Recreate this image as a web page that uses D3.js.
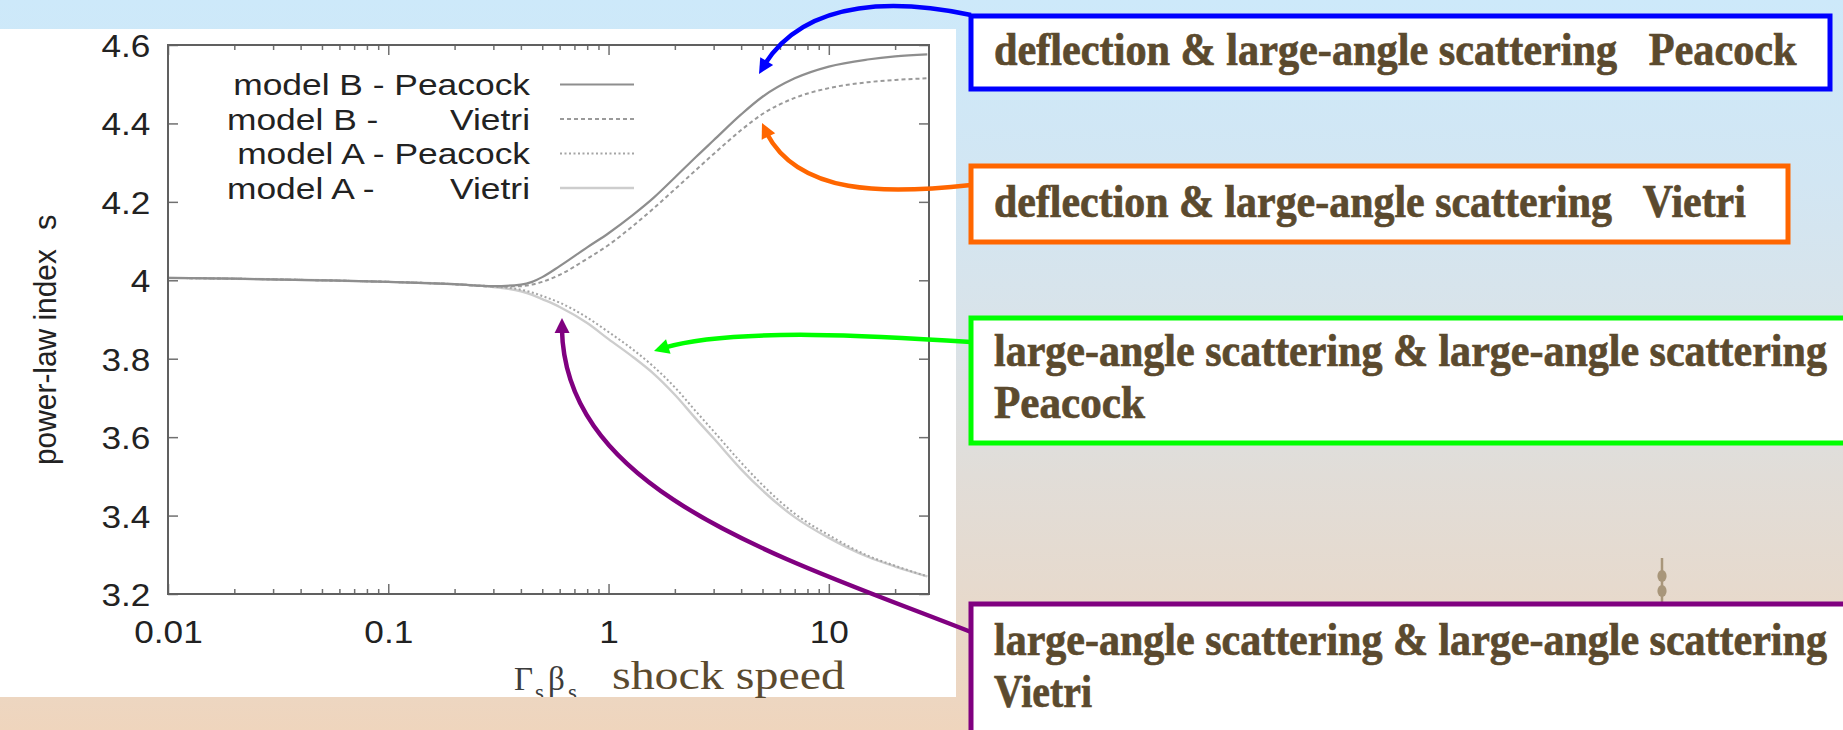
<!DOCTYPE html>
<html>
<head>
<meta charset="utf-8">
<script src="https://cdn.jsdelivr.net/npm/d3@7"></script>
<style>
  html, body { margin: 0; padding: 0; overflow: hidden; background: #fff; }
  svg { display: block; }
</style>
</head>
<body>
<svg id="chart" width="1843" height="730"></svg>
<script>
// Shock speed (Γsβs) sample points shared by every curve
const shockSpeed = [0.01, 0.02, 0.05, 0.1, 0.2, 0.3, 0.4, 0.45, 0.5, 0.6, 0.8, 1, 1.3, 1.6, 2, 2.5, 3, 4, 5, 7, 10, 15, 20, 28];

// Power-law index s for each model / scattering prescription
const modelBPeacock = [4.006, 4.004, 4.000, 3.996, 3.990, 3.985, 3.989, 3.996, 4.008, 4.036, 4.084, 4.120, 4.168, 4.210, 4.262, 4.315, 4.357, 4.423, 4.468, 4.515, 4.545, 4.563, 4.571, 4.576];
const modelBVietri  = [4.006, 4.004, 4.000, 3.996, 3.990, 3.984, 3.985, 3.989, 3.996, 4.014, 4.055, 4.090, 4.140, 4.183, 4.232, 4.282, 4.322, 4.383, 4.424, 4.465, 4.490, 4.505, 4.511, 4.515];
const modelAPeacock = [4.006, 4.004, 4.000, 3.996, 3.990, 3.984, 3.976, 3.969, 3.960, 3.943, 3.905, 3.868, 3.822, 3.780, 3.727, 3.665, 3.615, 3.535, 3.478, 3.405, 3.350, 3.298, 3.272, 3.245];
const modelAVietri  = [4.006, 4.004, 4.000, 3.996, 3.990, 3.983, 3.972, 3.963, 3.952, 3.932, 3.891, 3.850, 3.803, 3.762, 3.708, 3.646, 3.597, 3.518, 3.464, 3.396, 3.343, 3.295, 3.270, 3.245];

// Axis ticks and labels
const xMajorTicks = [0.01, 0.1, 1, 10];
const xTickLabels = ["0.01", "0.1", "1", "10"];
const xMinorTicks = [0.02,0.03,0.04,0.05,0.06,0.07,0.08,0.09,0.2,0.3,0.4,0.5,0.6,0.7,0.8,0.9,2,3,4,5,6,7,8,9,20];
const yTicks = [3.2, 3.4, 3.6, 3.8, 4.0, 4.2, 4.4, 4.6];
const yTickLabels = ["3.2", "3.4", "3.6", "3.8", "4", "4.2", "4.4", "4.6"];

// Legend entries
const legendModels  = ["model B -", "model B -", "model A -", "model A -"];
const legendMethods = ["Peacock", "Vietri", "Peacock", "Vietri"];

// Annotation boxes (one or two lines each)
const noteLines = [
  ["deflection & large-angle scattering   Peacock"],
  ["deflection & large-angle scattering   Vietri"],
  ["large-angle scattering & large-angle scattering", "Peacock"],
  ["large-angle scattering & large-angle scattering", "Vietri"]
];

const W = 1843, H = 730;
const svg = d3.select("#chart");
const defs = svg.append("defs");

// page background: vertical wash from pale blue to peach
const bg = defs.append("linearGradient").attr("id", "bg")
  .attr("x1", 0).attr("y1", 0).attr("x2", 0).attr("y2", 1);
[[0, "#cde9fa"], [0.25, "#d2e6f3"], [0.45, "#d9e3e9"], [0.65, "#e1ddd8"], [0.8, "#e6dace"], [1, "#efd5bd"]]
  .forEach(([o, c]) => bg.append("stop").attr("offset", o).attr("stop-color", c));
svg.append("rect").attr("width", W).attr("height", H).attr("fill", "url(#bg)");

// white panel holding the plot
const panel = { x: 0, y: 29, w: 956, h: 668 };
svg.append("rect").attr("x", panel.x).attr("y", panel.y)
  .attr("width", panel.w).attr("height", panel.h).attr("fill", "#fff");
defs.append("clipPath").attr("id", "panelClip").append("rect")
  .attr("x", panel.x).attr("y", panel.y).attr("width", panel.w).attr("height", panel.h);

// text helper: glyphs are squeezed/stretched horizontally (in their own frame)
// either by a fixed factor sx or so that the run spans a given width
function label(parent, str, x, y, o) {
  const base = `translate(${x},${y})${o.rot ? ` rotate(${o.rot})` : ""}`;
  const t = parent.append("text")
    .attr("transform", base)
    .attr("font-family", o.family || "'Liberation Sans', Arial, sans-serif")
    .attr("font-size", o.size)
    .attr("font-weight", o.weight || "normal")
    .attr("fill", o.fill || "#222")
    .attr("text-anchor", o.anchor || "start")
    .style("white-space", "pre")
    .text(str);
  if (o.stroke) t.attr("stroke", o.fill).attr("stroke-width", o.stroke);
  let sx = o.sx || 1;
  if (o.width) sx = o.width / t.node().getComputedTextLength();
  t.attr("transform", `${base} scale(${sx},1)`);
  return t;
}

// ---- plot ----
const plot = { l: 168, r: 929, t: 45, b: 594 };
const x = d3.scaleLog().domain([0.01, 28.5]).range([plot.l, plot.r]);
const y = d3.scaleLinear().domain([3.2, 4.6]).range([plot.b, plot.t]);

defs.append("clipPath").attr("id", "plotClip").append("rect")
  .attr("x", plot.l).attr("y", plot.t).attr("width", plot.r - plot.l).attr("height", plot.b - plot.t);

const series = [
  { values: modelBPeacock, stroke: "#8e8e8e", dash: null,    width: 2.2 },
  { values: modelBVietri,  stroke: "#9a9a9a", dash: "4,3",   width: 2.0 },
  { values: modelAPeacock, stroke: "#a5a5a5", dash: "2,2.5", width: 2.0 },
  { values: modelAVietri,  stroke: "#cdcdcd", dash: null,    width: 2.4 }
];

const line = d3.line()
  .x(d => x(d[0]))
  .y(d => y(d[1]))
  .curve(d3.curveMonotoneX);

const curves = svg.append("g").attr("clip-path", "url(#plotClip)");
series.slice().reverse().forEach(s => {
  curves.append("path")
    .attr("d", line(shockSpeed.map((v, i) => [v, s.values[i]])))
    .attr("fill", "none")
    .attr("stroke", s.stroke)
    .attr("stroke-width", s.width)
    .attr("stroke-dasharray", s.dash);
});

// axes with inward ticks on all four sides
const tickColor = "#707070";
function styleAxis(g) {
  g.select(".domain").remove();
  g.selectAll(".tick line").attr("stroke", tickColor).attr("stroke-width", 1.5);
}
const tickFont = { size: 32, sx: 1.1 };

const xBottom = svg.append("g").attr("transform", `translate(0,${plot.b})`)
  .call(d3.axisBottom(x).tickValues(xMajorTicks).tickSize(-10).tickPadding(26.5)
    .tickFormat((d, i) => xTickLabels[i]));
styleAxis(xBottom);
xBottom.selectAll(".tick text")
  .attr("font-family", "'Liberation Sans', Arial, sans-serif")
  .attr("font-size", tickFont.size).attr("fill", "#222")
  .attr("transform", `scale(${tickFont.sx},1)`);

const xBottomMinor = svg.append("g").attr("transform", `translate(0,${plot.b})`)
  .call(d3.axisBottom(x).tickValues(xMinorTicks).tickSize(-5).tickFormat(""));
styleAxis(xBottomMinor);

const xTop = svg.append("g").attr("transform", `translate(0,${plot.t})`)
  .call(d3.axisTop(x).tickValues(xMajorTicks).tickSize(-10).tickFormat(""));
styleAxis(xTop);
const xTopMinor = svg.append("g").attr("transform", `translate(0,${plot.t})`)
  .call(d3.axisTop(x).tickValues(xMinorTicks).tickSize(-5).tickFormat(""));
styleAxis(xTopMinor);

const yLeft = svg.append("g").attr("transform", `translate(${plot.l},0)`)
  .call(d3.axisLeft(y).tickValues(yTicks).tickSize(-10).tickPadding(16)
    .tickFormat((d, i) => yTickLabels[i]));
styleAxis(yLeft);
yLeft.selectAll(".tick text")
  .attr("font-family", "'Liberation Sans', Arial, sans-serif")
  .attr("font-size", tickFont.size).attr("fill", "#222")
  .attr("dy", "0.36em")
  .attr("transform", `scale(${tickFont.sx},1)`);

const yRight = svg.append("g").attr("transform", `translate(${plot.r},0)`)
  .call(d3.axisRight(y).tickValues(yTicks).tickSize(-10).tickFormat(""));
styleAxis(yRight);

// frame
svg.append("rect")
  .attr("x", plot.l).attr("y", plot.t)
  .attr("width", plot.r - plot.l).attr("height", plot.b - plot.t)
  .attr("fill", "none").attr("stroke", "#606060").attr("stroke-width", 2);

// legend
const legend = svg.append("g");
const legendRight = 530, legendTop = 95, legendStep = 34.5;
const legendFont = { size: 29, sx: 1.22 };
legendMethods.forEach((m, i) => {
  const yy = legendTop + i * legendStep;
  if (m === "Peacock") {
    label(legend, `${legendModels[i]} ${m}`, legendRight, yy, { ...legendFont, anchor: "end" });
  } else {
    label(legend, legendModels[i], 227, yy, legendFont);
    label(legend, m, legendRight, yy, { ...legendFont, anchor: "end" });
  }
  const s = series[i];
  legend.append("line")
    .attr("x1", 560).attr("x2", 634).attr("y1", yy - 10.5).attr("y2", yy - 10.5)
    .attr("stroke", s.stroke).attr("stroke-width", s.width)
    .attr("stroke-dasharray", s.dash);
});

// axis titles
label(svg, "power-law index", 56, 465, { size: 31, rot: -90, width: 216 });
label(svg, "s", 56, 230, { size: 31, rot: -90 });

const gb = svg.append("g").attr("clip-path", "url(#panelClip)");
const serif = "'Liberation Serif', 'Times New Roman', serif";
const greek = { family: serif, fill: "#3c3c3c" };
label(gb, "Γ", 514, 690, { ...greek, size: 33 });
label(gb, "s", 535, 700, { ...greek, size: 23 });
label(gb, "β", 548, 690, { ...greek, size: 33 });
label(gb, "s", 568, 700, { ...greek, size: 23 });
label(svg, "shock speed", 612, 689, { size: 41, family: serif, fill: "#5b4a2e", width: 233 });

// ---- callout arrows ----
function arrow(d, color) {
  const p = svg.append("path").attr("d", d)
    .attr("fill", "none").attr("stroke", color).attr("stroke-width", 4.5);
  const node = p.node(), L = node.getTotalLength();
  const tip = node.getPointAtLength(L), back = node.getPointAtLength(L - 15);
  const a = Math.atan2(tip.y - back.y, tip.x - back.x);
  p.attr("stroke-dasharray", `${L - 11} ${L}`);
  const hl = 15, hw = 7.5;
  const bx = tip.x - hl * Math.cos(a), by = tip.y - hl * Math.sin(a);
  const pts = [
    [tip.x, tip.y],
    [bx + hw * Math.sin(a), by - hw * Math.cos(a)],
    [bx - hw * Math.sin(a), by + hw * Math.cos(a)]
  ];
  svg.append("path").attr("d", "M" + pts.map(q => q.join(",")).join("L") + "Z").attr("fill", color);
}
arrow("M971,15 C900,0 800,-5 759,74", "#0000ff");
arrow("M971,185 C880,195 790,195 762,123", "#ff6600");
arrow("M971,342 C880,336 720,326 654,351", "#00ff00");
arrow("M971,632 C775,555 556,490 562,318", "#800080");

// small ornament above the last box
svg.append("line").attr("x1", 1662).attr("x2", 1662).attr("y1", 558).attr("y2", 603)
  .attr("stroke", "#a8967a").attr("stroke-width", 2.5);
[576, 591].forEach(cy => svg.append("ellipse").attr("cx", 1662).attr("cy", cy)
  .attr("rx", 4.6).attr("ry", 6).attr("fill", "#a8967a"));

// ---- annotation boxes ----
const boxes = [
  { x: 971, y: 16,  w: 859, h: 73,  color: "#0000ff", base: [65],         widths: [803] },
  { x: 971, y: 166, w: 817, h: 76,  color: "#ff6600", base: [217],        widths: [752] },
  { x: 971, y: 318, w: 876, h: 125, color: "#00ff00", base: [366, 417.5], widths: [833, 151] },
  { x: 971, y: 604, w: 876, h: 140, color: "#800080", base: [655, 706.5], widths: [833, 98] }
];
boxes.forEach((b, i) => {
  svg.append("rect").attr("x", b.x).attr("y", b.y).attr("width", b.w).attr("height", b.h)
    .attr("fill", "#fff").attr("stroke", b.color).attr("stroke-width", 5);
  noteLines[i].forEach((t, j) => {
    label(svg, t, 994, b.base[j], {
      size: 46, family: serif, weight: "bold", fill: "#5b4a2e", stroke: 0.7, width: b.widths[j]
    });
  });
});
</script>
</body>
</html>
